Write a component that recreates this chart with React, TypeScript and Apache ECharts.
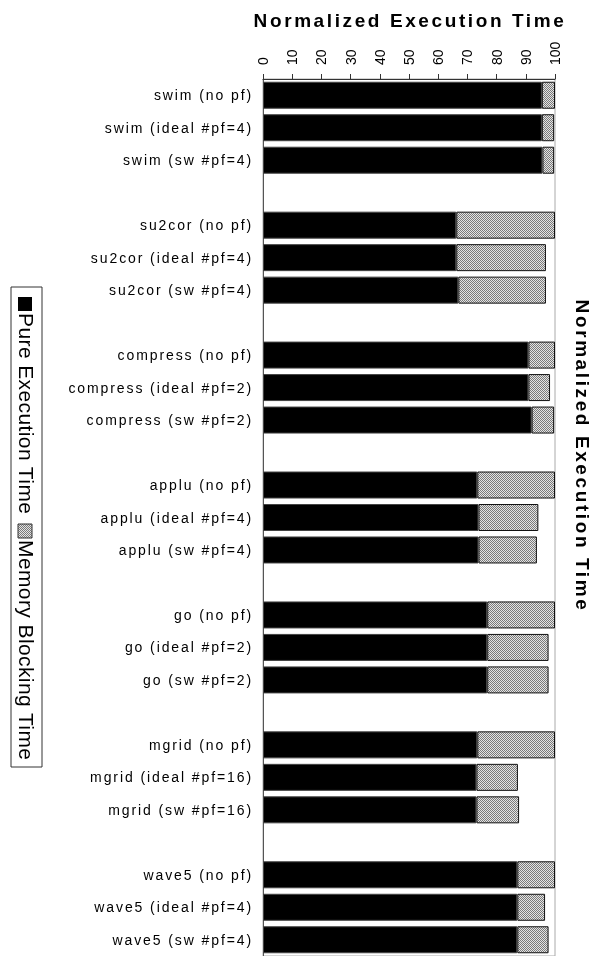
import React, { useEffect, useRef } from "react";
import * as echarts from "echarts";

const categories = [
  "swim (no pf)", "swim (ideal #pf=4)", "swim (sw #pf=4)", " ",
  "su2cor (no pf)", "su2cor (ideal #pf=4)", "su2cor (sw #pf=4)", "  ",
  "compress (no pf)", "compress (ideal #pf=2)", "compress (sw #pf=2)", "   ",
  "applu (no pf)", "applu (ideal #pf=4)", "applu (sw #pf=4)", "    ",
  "go (no pf)", "go (ideal #pf=2)", "go (sw #pf=2)", "     ",
  "mgrid (no pf)", "mgrid (ideal #pf=16)", "mgrid (sw #pf=16)", "      ",
  "wave5 (no pf)", "wave5 (ideal #pf=4)", "wave5 (sw #pf=4)",
];

const pureExecution = [
  95.5, 95.5, 95.7, null,
  66.2, 66.2, 66.9, null,
  90.9, 90.9, 92.0, null,
  73.4, 73.8, 73.8, null,
  76.8, 76.8, 76.8, null,
  73.4, 73.1, 73.1, null,
  87.1, 87.1, 87.1,
];

const memoryBlocking = [
  4.5, 4.2, 4.0, null,
  33.8, 30.7, 30.0, null,
  9.1, 7.4, 7.7, null,
  26.6, 20.5, 20.0, null,
  23.2, 21.0, 21.0, null,
  26.6, 14.2, 14.6, null,
  12.9, 9.5, 10.7,
];

const seriesNames = ["Pure Execution Time", "Memory Blocking Time"];
const axisTitle = "Normalized Execution Time";

function makePattern() {
  const c = document.createElement("canvas");
  c.width = 2;
  c.height = 2;
  const ctx = c.getContext("2d")!;
  ctx.fillStyle = "#e4e4e4";
  ctx.fillRect(0, 0, 2, 2);
  ctx.fillStyle = "#7a7a7a";
  ctx.fillRect(0, 0, 1, 1);
  ctx.fillRect(1, 1, 1, 1);
  return c;
}

export default function App() {
  const ref = useRef<HTMLDivElement>(null);

  useEffect(() => {
    if (!ref.current) return;
    const chart = echarts.init(ref.current, null, { renderer: "svg" });
    const pattern = { image: makePattern(), repeat: "repeat" };
    const font = "'Liberation Sans', Arial, sans-serif";

    chart.setOption({
      animation: false,
      title: {
        text: axisTitle,
        left: 405,
        top: 6,
        textAlign: "center",
        textStyle: { fontFamily: font, fontSize: 19, fontWeight: "bold", color: "#000" },
      },
      grid: {
        left: 263,
        right: 44,
        top: 79,
        bottom: 0,
        show: true,
        borderColor: "#aaa",
        borderWidth: 1,
      },
      xAxis: {
        type: "value",
        position: "top",
        min: 0,
        max: 100,
        interval: 10,
        axisLine: { show: true, lineStyle: { color: "#333", width: 1 } },
        axisTick: { show: true, length: 5, lineStyle: { color: "#333" } },
        axisLabel: {
          rotate: -90,
          margin: 14,
          fontFamily: font,
          fontSize: 14,
          color: "#000",
        },
        splitLine: { show: false },
      },
      yAxis: {
        type: "category",
        inverse: true,
        data: categories,
        axisLine: { show: true, lineStyle: { color: "#555" } },
        axisTick: { show: false },
        axisLabel: {
          margin: 10,
          fontFamily: font,
          fontSize: 14,
          color: "#000",
        },
      },
      series: [
        {
          name: seriesNames[0],
          type: "bar",
          stack: "total",
          barWidth: 27,
          silent: true,
          data: pureExecution,
          itemStyle: { color: "#000", borderColor: "#444", borderWidth: 1 },
        },
        {
          name: seriesNames[1],
          type: "bar",
          stack: "total",
          barWidth: 27,
          silent: true,
          data: memoryBlocking,
          itemStyle: { color: pattern, borderColor: "#111", borderWidth: 1 },
        },
      ],
      graphic: [
        {
          type: "rect",
          shape: { x: 11, y: 287, width: 31, height: 480 },
          style: { fill: "#fff", stroke: "#333", lineWidth: 1 },
        },
        {
          type: "rect",
          shape: { x: 18, y: 297, width: 14, height: 14 },
          style: { fill: "#000" },
        },
        {
          type: "text",
          x: 26,
          y: 313,
          rotation: -Math.PI / 2,
          style: {
            text: seriesNames[0],
            fontFamily: font,
            fontSize: 21,
            fill: "#000",
            align: "left",
            verticalAlign: "middle",
          },
        },
        {
          type: "rect",
          shape: { x: 18, y: 524, width: 14, height: 14 },
          style: { fill: pattern, stroke: "#333", lineWidth: 1 },
        },
        {
          type: "text",
          x: 26,
          y: 540,
          rotation: -Math.PI / 2,
          style: {
            text: seriesNames[1],
            fontFamily: font,
            fontSize: 21,
            fill: "#000",
            align: "left",
            verticalAlign: "middle",
          },
        },
        {
          type: "text",
          x: 582,
          y: 456,
          rotation: -Math.PI / 2,
          style: {
            text: axisTitle,
            fontFamily: font,
            fontSize: 19,
            fontWeight: "bold",
            fill: "#000",
            align: "center",
            verticalAlign: "middle",
          },
        },
      ],
    });

    // widen letter spacing of texts to match the reference typography
    const svg = ref.current.querySelector("svg");
    if (svg) {
      svg.querySelectorAll("text").forEach((t) => {
        const s = t.textContent || "";
        if (s === axisTitle) t.setAttribute("letter-spacing", "2.6");
        else if (categories.includes(s)) t.setAttribute("letter-spacing", "1.9");
        else if (seriesNames.includes(s)) t.setAttribute("letter-spacing", "0.4");
      });
    }

    return () => chart.dispose();
  }, []);

  return (
    <div
      ref={ref}
      style={{ position: "fixed", left: 0, top: 0, width: 599, height: 956 }}
    />
  );
}
